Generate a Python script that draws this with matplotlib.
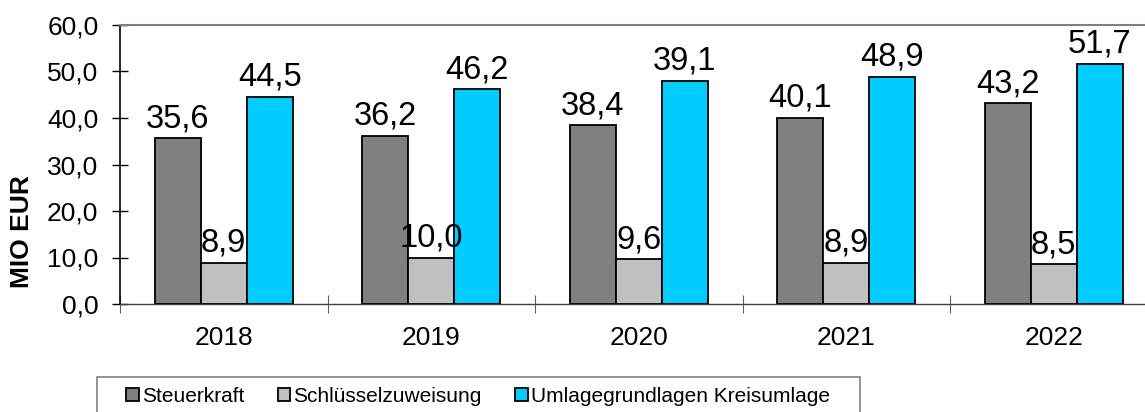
"""
Steuerkraft, Schluesselzuweisung und Umlagegrundlagen 2018-2022.
"""
import numpy as np
import matplotlib
matplotlib.use('Agg')
import matplotlib.pyplot as plt
from matplotlib.patches import Patch, Rectangle

plt.rcParams['font.family'] = ['Liberation Sans', 'DejaVu Sans']

years = ['2018', '2019', '2020', '2021', '2022']
steuerkraft = [35.6, 36.2, 38.4, 40.1, 43.2]
schluessel = [8.9, 10.0, 9.6, 8.9, 8.5]
umlage = [44.5, 46.2, 48.0, 48.9, 51.7]
# labels as printed in the original (2020 label differs from bar height)
steuerkraft_labels = ['35,6', '36,2', '38,4', '40,1', '43,2']
schluessel_labels = ['8,9', '10,0', '9,6', '8,9', '8,5']
umlage_labels = ['44,5', '46,2', '39,1', '48,9', '51,7']
series_names = ['Steuerkraft', 'Schlüsselzuweisung', 'Umlagegrundlagen Kreisumlage']
colors = ['#808080', '#C0C0C0', '#00CCFF']

W, H = 1145, 412
fig = plt.figure(figsize=(W / 100, H / 100), dpi=100)
ax = fig.add_axes([120 / W, 1 - 304 / H, 1037.5 / W, 279 / H])

x = np.arange(len(years))
width = 0.222
series = [
    (steuerkraft, steuerkraft_labels),
    (schluessel, schluessel_labels),
    (umlage, umlage_labels),
]
for i, (vals, labels) in enumerate(series):
    pos = x + (i - 1) * width
    ax.bar(pos, vals, width=width, color=colors[i], edgecolor='black',
           linewidth=1.3, zorder=3)
    for px_, v, lab in zip(pos, vals, labels):
        ax.annotate(lab, (px_, v), xytext=(0, 8), textcoords='offset points',
                    ha='center', va='baseline', fontsize=23.5, zorder=4)

ax.set_xlim(-0.5, len(years) - 0.5)
ax.set_ylim(0, 60)
ax.set_yticks(np.arange(0, 61, 10))
ax.set_yticklabels([f'{v:.1f}'.replace('.', ',') for v in np.arange(0, 61, 10)])
ax.set_xticks(np.arange(-0.5, len(years), 1.0))
ax.set_xticklabels([])
ax.set_xticks(x, minor=True)
ax.set_xticklabels(years, minor=True)

ax.tick_params(axis='y', direction='inout', length=11, width=1, labelsize=19, pad=10)
ax.tick_params(axis='x', which='major', direction='inout', length=13, width=0.8,
               color='#606060')
ax.tick_params(axis='x', which='minor', length=0, labelsize=19, pad=16)

ax.spines['left'].set_color('black')
ax.spines['left'].set_linewidth(1.2)
ax.spines['bottom'].set_color('#404040')
ax.spines['bottom'].set_linewidth(1.0)
ax.spines['top'].set_color('#808080')
ax.spines['top'].set_linewidth(1.5)
ax.spines['right'].set_visible(False)

fig.text(22 / W, 1 - 232 / H, 'MIO EUR', rotation=90, ha='center', va='center',
         fontsize=19, fontweight='bold')

# legend frame runs off the bottom edge in the original
fig.add_artist(Rectangle((97 / W, -0.1), 763 / W, 0.1 + (1 - 377 / H),
                         transform=fig.transFigure, fill=False,
                         edgecolor='#808080', linewidth=1.2))
handles = [Patch(facecolor=c, edgecolor='black', linewidth=1.3) for c in colors]
fig.legend(handles, series_names, loc='center', ncol=3,
           bbox_to_anchor=(478 / W, 1 - 396 / H),
           fontsize=15, frameon=False, handlelength=0.6,
           handleheight=0.6, handletextpad=0.15, columnspacing=1.6,
           borderaxespad=0)

fig.savefig('out.png', dpi=100)
